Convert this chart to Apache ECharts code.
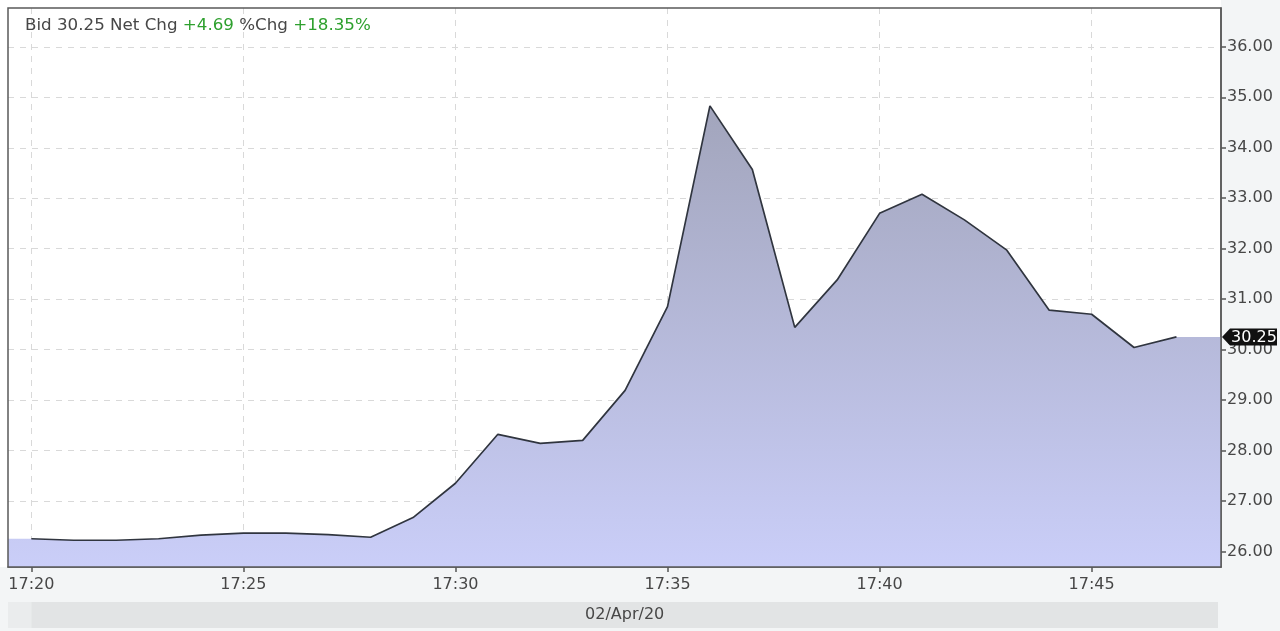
<!DOCTYPE html>
<html><head><meta charset="utf-8">
<script src="https://cdn.jsdelivr.net/npm/echarts@6/dist/echarts.min.js"></script>
<style>html,body{margin:0;padding:0;background:#fff}#c{width:1280px;height:631px}</style>
</head><body><div id="c"></div>
<script>
// ---- data ----
const times = ['17:20','17:21','17:22','17:23','17:24','17:25','17:26','17:27','17:28','17:29',
               '17:30','17:31','17:32','17:33','17:34','17:35','17:36','17:37','17:38','17:39',
               '17:40','17:41','17:42','17:43','17:44','17:45','17:46','17:47'];
const values = [26.25, 26.22, 26.22, 26.25, 26.32, 26.36, 26.36, 26.33, 26.28, 26.67,
                27.35, 28.32, 28.14, 28.20, 29.19, 30.85, 34.83, 33.57, 30.44, 31.38,
                32.70, 33.08, 32.57, 31.97, 30.78, 30.70, 30.04, 30.25];
const xTickLabels = ['17:20','17:25','17:30','17:35','17:40','17:45'];
const yTickLabels = ['26.00','27.00','28.00','29.00','30.00','31.00','32.00','33.00','34.00','35.00','36.00'];
const dateLabel = '02/Apr/20';
const bidText = 'Bid 30.25 Net Chg ';
const netChg = '+4.69';
const pctLabel = ' %Chg ';
const pctChg = '+18.35%';
const lastLabel = '30.25';
const xStart = '17:19.45', xEnd = '17:48.05';   // visible time window
const yMin = 25.69, yMax = 36.77;

// ---- helpers ----
function toMin(s) { const p = s.split(':'); return Number(p[0]) * 60 + Number(p[1]); }
function fmt(v) { const h = Math.floor(v / 60), m = Math.round(v - h * 60); return h + ':' + (m < 10 ? '0' : '') + m; }
const xs = times.map(toMin);
const pts = xs.map((x, i) => [x, values[i]]);
const xMin = toMin(xStart), xMax = toMin(xEnd);
const fillPts = [[xMin, values[0]]].concat(pts, [[xMax, values[values.length - 1]]]);

const FONT = 'DejaVu Sans';
const TXT = '#474747';
const chart = echarts.init(document.getElementById('c'), null, {renderer: 'canvas'});
const option = {
  backgroundColor: '#ffffff',
  animation: false,
  title: {
    left: 25, top: 17, padding: 0,
    text: '{l|' + bidText + '}{g|' + netChg + '}{l|' + pctLabel + '}{g|' + pctChg + '}',
    textStyle: {
      fontWeight: 'normal', fontFamily: FONT, fontSize: 16.7,
      rich: {
        l: {fontFamily: FONT, fontSize: 16.7, fontWeight: 'normal', color: TXT},
        g: {fontFamily: FONT, fontSize: 16.7, fontWeight: 'normal', color: '#2ea02e'}
      }
    }
  },
  grid: {left: 8, right: 59, top: 8, bottom: 64, show: false},
  xAxis: {
    type: 'value', min: xMin, max: xMax, splitNumber: 6,
    axisLine: {show: true, onZero: false, lineStyle: {color: '#555', width: 1.5}},
    axisTick: {show: true, length: 5, lineStyle: {color: '#555', width: 1.5}, customValues: xTickLabels.map(toMin)},
    axisLabel: {show: true, margin: 10, fontFamily: FONT, fontSize: 16, color: TXT, formatter: fmt,
                customValues: xTickLabels.map(toMin)},
    splitLine: {show: true, lineStyle: {color: '#d9d9d9', type: [6, 6], width: 1}}
  },
  yAxis: {
    type: 'value', position: 'right', min: yMin, max: yMax, splitNumber: 10,
    axisLine: {show: true, lineStyle: {color: '#555', width: 1.5}},
    axisTick: {show: true, length: 5, lineStyle: {color: '#555', width: 1.5}, customValues: yTickLabels.map(Number)},
    axisLabel: {show: true, margin: 6, fontFamily: FONT, fontSize: 16, color: TXT,
                formatter: v => v.toFixed(2),
                customValues: yTickLabels.map(Number)},
    splitLine: {show: true, lineStyle: {color: '#d9d9d9', type: [6, 6], width: 1}}
  },
  series: [
    {
      type: 'line', data: fillPts, symbol: 'none', silent: true, z: 2,
      lineStyle: {width: 0, opacity: 0},
      areaStyle: {
        opacity: 1,
        color: new echarts.graphic.LinearGradient(0, 0, 0, 1, [
          {offset: 0, color: '#a2a5bc'},
          {offset: 1, color: '#cacef8'}
        ])
      }
    },
    {
      type: 'line', data: pts, symbol: 'none', silent: true, z: 3,
      lineStyle: {color: '#30353f', width: 1.7}
    }
  ]
};
chart.setOption(option);

// ---- decorations positioned through the chart's own scales ----
const p0 = chart.convertToPixel({gridIndex: 0}, [xMin, yMin]);
const p1 = chart.convertToPixel({gridIndex: 0}, [xMax, yMax]);
const gx0 = p0[0], gy1 = p0[1], gx1 = p1[0], gy0 = p1[1];
const firstX = chart.convertToPixel({gridIndex: 0}, [xs[0], yMin])[0];
const lastY = chart.convertToPixel({gridIndex: 0}, [xMax, Number(lastLabel)])[1];
const W = 1280, H = 631;
chart.setOption({
  graphic: [
    {type: 'rect', z: -10, silent: true, shape: {x: gx1, y: 0, width: W - gx1, height: H}, style: {fill: '#f3f5f6'}},
    {type: 'rect', z: -10, silent: true, shape: {x: 0, y: gy1, width: W, height: H - gy1}, style: {fill: '#f3f5f6'}},
    {type: 'rect', z: -9, silent: true, shape: {x: gx0, y: gy1 + 35, width: firstX - gx0, height: 26}, style: {fill: '#eaeced'}},
    {type: 'rect', z: -9, silent: true, shape: {x: firstX, y: gy1 + 35, width: gx1 - 3 - firstX, height: 26}, style: {fill: '#e2e4e5'}},
    {type: 'text', z: 5, silent: true, x: (firstX + gx1 - 3) / 2, y: gy1 + 48,
     style: {text: dateLabel, fontFamily: FONT, fontSize: 16, fill: TXT, align: 'center', verticalAlign: 'middle'}},
    {type: 'rect', z: 50, silent: true, shape: {x: gx0, y: gy0, width: gx1 - gx0, height: gy1 - gy0},
     style: {fill: 'none', stroke: '#5a5a5a', lineWidth: 1.5}},
    {type: 'polygon', z: 60, silent: true,
     shape: {points: [[gx1 + 1, lastY], [gx1 + 9, lastY - 8.5], [gx1 + 56, lastY - 8.5], [gx1 + 56, lastY + 8.5], [gx1 + 9, lastY + 8.5]]},
     style: {fill: '#111'}},
    {type: 'text', z: 61, silent: true, x: gx1 + 33, y: lastY + 0.5,
     style: {text: lastLabel, fontFamily: FONT, fontSize: 16, fill: '#fff', align: 'center', verticalAlign: 'middle'}}
  ]
});
</script></body></html>
